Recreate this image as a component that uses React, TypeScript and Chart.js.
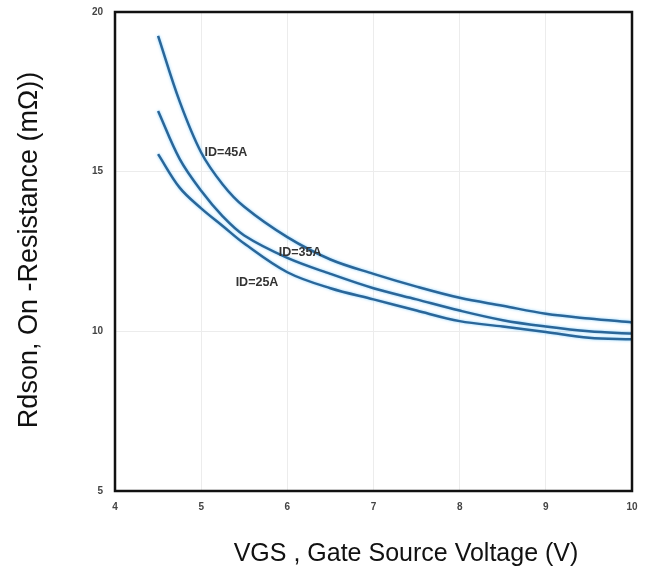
import React, { useEffect, useRef } from "react";
import { Chart, registerables } from "chart.js";

Chart.register(...registerables);

const vgs = [4.5, 4.75, 5, 5.25, 5.5, 6, 6.5, 7, 7.5, 8, 8.5, 9, 9.5, 10];
const id45 = [19.25, 17.2, 15.6, 14.6, 13.9, 12.95, 12.25, 11.8, 11.4, 11.05, 10.8, 10.55, 10.4, 10.28];
const id35 = [16.9, 15.4, 14.4, 13.6, 13.0, 12.3, 11.8, 11.35, 11.0, 10.65, 10.35, 10.15, 10.0, 9.93];
const id25 = [15.55, 14.5, 13.85, 13.3, 12.75, 11.85, 11.35, 11.0, 10.65, 10.32, 10.15, 9.98, 9.8, 9.75];

const seriesNames = ["ID=45A", "ID=35A", "ID=25A"];
const labelX = [5.04, 5.9, 5.4];
const labelY = [15.6, 12.47, 11.53];

const xTitle = "VGS , Gate Source Voltage (V)";
const yTitle = "Rdson, On -Resistance (mΩ))";

export default function App() {
  const ref = useRef<HTMLCanvasElement | null>(null);

  useEffect(() => {
    if (!ref.current) return;
    const mk = (d: number[]) => vgs.map((x, i) => ({ x, y: d[i] }));

    const decor = {
      id: "decor",
      beforeDatasetsDraw(chart: any) {
        const ctx = chart.ctx;
        ctx.save();
        ctx.shadowColor = "rgba(110,200,255,0.8)";
        ctx.shadowBlur = 3;
      },
      afterDatasetsDraw(chart: any) {
        chart.ctx.restore();
      },
      afterDraw(chart: any) {
        const ctx = chart.ctx;
        const a = chart.chartArea;
        const xs = chart.scales.x;
        const ys = chart.scales.y;
        ctx.save();
        ctx.strokeStyle = "#111";
        ctx.lineWidth = 2.5;
        ctx.strokeRect(a.left, a.top, a.right - a.left, a.bottom - a.top);
        ctx.fillStyle = "#333";
        ctx.font = "bold 12.5px 'Liberation Sans', Arial, sans-serif";
        ctx.textBaseline = "middle";
        ctx.textAlign = "left";
        seriesNames.forEach((n, i) => {
          ctx.fillText(n, xs.getPixelForValue(labelX[i]), ys.getPixelForValue(labelY[i]));
        });
        ctx.fillStyle = "#111";
        ctx.textAlign = "center";
        ctx.textBaseline = "alphabetic";
        ctx.font = "25px 'Liberation Sans', Arial, sans-serif";
        ctx.fillText(xTitle, 406, 561);
        ctx.font = "27px 'Liberation Sans', Arial, sans-serif";
        ctx.translate(37, 250);
        ctx.rotate(-Math.PI / 2);
        ctx.fillText(yTitle, 0, 0);
        ctx.restore();
      },
    };

    const ds = (d: number[]) => ({
      data: mk(d),
      borderColor: "#2a6699",
      borderWidth: 2.5,
      pointRadius: 0,
      tension: 0.35,
      fill: false,
    });

    const tickFont = { family: "'Liberation Sans', Arial, sans-serif", size: 10, weight: "bold" };

    const chart = new Chart(ref.current, {
      type: "line",
      data: { datasets: [ds(id45), ds(id35), ds(id25)] },
      options: {
        animation: false,
        responsive: false,
        maintainAspectRatio: false,
        layout: { padding: { left: 0, right: 21, top: 12, bottom: 0 } },
        plugins: { legend: { display: false }, tooltip: { enabled: false } },
        scales: {
          x: {
            type: "linear",
            min: 4,
            max: 10,
            afterFit: (s: any) => { s.height = 80; s.paddingLeft = 0; s.paddingRight = 0; },
            ticks: { stepSize: 1, padding: 10, color: "#444", font: tickFont },
            grid: { color: "#ececec", lineWidth: 1, drawTicks: false },
            border: { display: false },
          },
          y: {
            type: "linear",
            min: 5,
            max: 20,
            afterFit: (s: any) => { s.width = 115; s.paddingTop = 0; s.paddingBottom = 0; },
            ticks: { stepSize: 5, padding: 12, color: "#444", font: tickFont },
            grid: { color: "#ececec", lineWidth: 1, drawTicks: false },
            border: { display: false },
          },
        },
      },
      plugins: [decor],
    } as any);
    return () => chart.destroy();
  }, []);

  return (
    <div style={{ position: "absolute", left: 0, top: 0, width: 653, height: 571, background: "#fff" }}>
      <canvas ref={ref} width={653} height={571} style={{ width: 653, height: 571 }} />
    </div>
  );
}
